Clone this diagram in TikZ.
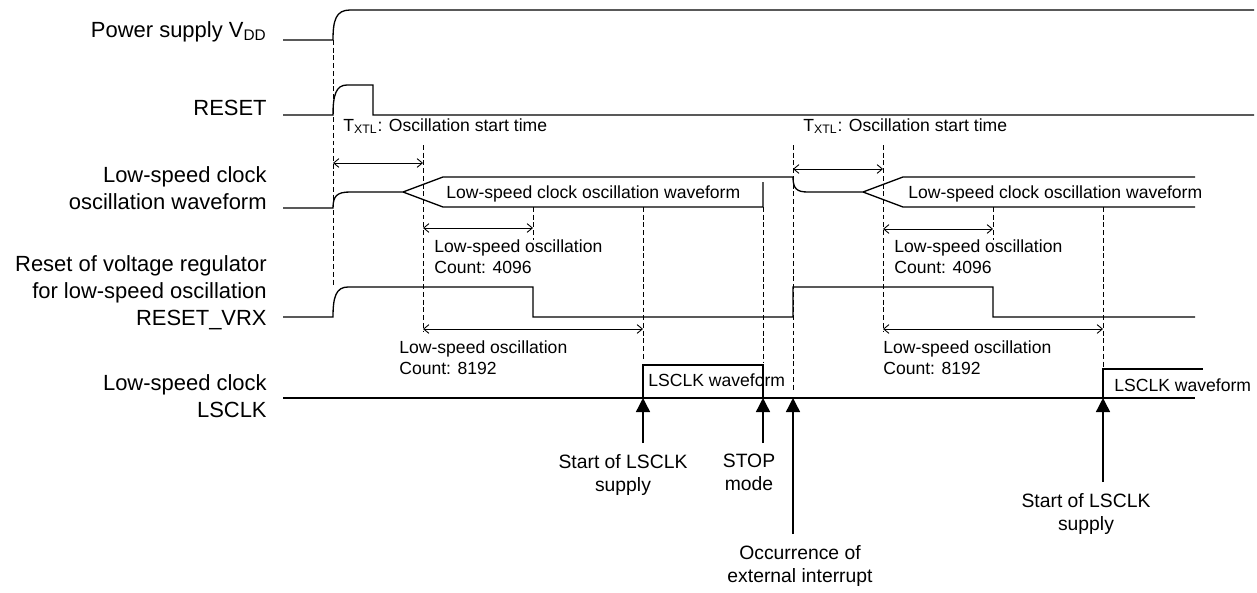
\documentclass[tikz,border=0pt]{standalone}
\usepackage{fontspec}
\setmainfont{Liberation Sans}
\usetikzlibrary{arrows.meta}

\tikzset{
    wave/.style={line width=0.75pt},
    guide/.style={line width=0.5pt, dash pattern=on 2.8pt off 1.6pt},
    span/.style={line width=0.5pt, {Straight Barb[length=3pt,width=5pt]}-{Straight Barb[length=3pt,width=5pt]}},
    evarrow/.style={line width=0.8pt, -{Triangle[length=8pt,width=8pt]}},
    signame/.style={font=\fontsize{12.5}{15.5}\selectfont, align=right, inner sep=0pt},
    note/.style={font=\fontsize{10}{12}\selectfont, align=left, inner sep=0pt},
    event/.style={font=\fontsize{11}{13}\selectfont, align=center, inner sep=0pt, outer ysep=6.5pt, anchor=north}
}

\begin{document}
\begin{tikzpicture}[x=0.02cm, y=-0.02cm]

    \useasboundingbox (0,0) rectangle (1257,592);

    % Signal names on the left
    \node[signame, anchor=base east] (vdd) at (267,37) {Power supply V\textsubscript{DD}};
    \node[signame, anchor=base east] (rst) at (267,115) {RESET};
    \node[signame, anchor=north east] (losc) at (267,166) {Low-speed clock\\oscillation waveform};
    \node[signame, anchor=north east] (vrx) at (267,255) {Reset of voltage regulator\\for low-speed oscillation\\RESET\_VRX};
    \node[signame, anchor=north east] (lsclk) at (267,374) {Low-speed clock\\LSCLK};

    % Power supply and RESET
    \draw[wave] (283,40) -- (333,40) .. controls (333,20) and (336,10) .. (350,10) -- (1254,10);
    \draw[wave] (283,115) -- (333,115) .. controls (333,95) and (336,85) .. (347,85) -- (373,85) -- (373,115) -- (1254,115);

    % Low-speed clock oscillation waveform
    \draw[wave] (283,208) -- (333,208) .. controls (333,196) and (337,192) .. (350,192) -- (403,192)
        -- (443,177) -- (793,177) .. controls (793,189) and (797,192) .. (808,192) -- (863,192)
        -- (903,177) -- (1195,177);
    \draw[wave] (403,192) -- (443,207) -- (763,207) -- (763,182);
    \draw[wave] (863,192) -- (903,207) -- (1195,207);

    % RESET_VRX
    \draw[wave] (283,317) -- (333,317) .. controls (333,297) and (336,287) .. (348,287) -- (533,287)
        -- (533,317) -- (793,317) -- (793,287) -- (993,287) -- (993,317) -- (1195,317);

    % LSCLK
    \draw[wave] (283,398) -- (1195,398);
    \draw[wave] (643,398) -- (643,365) -- (763,365) -- (763,398);
    \draw[wave] (1103,398) -- (1103,369) -- (1203,369);

    % Dashed timing guides
    \foreach \x/\ya/\yb in {333/40/285, 423/145/332, 533/207/240, 643/207/360,
                            763/207/363, 793/145/392, 883/145/332, 993/207/240, 1103/207/368} {
        \draw[guide] (\x,\ya) -- (\x,\yb);
    }

    % Interval arrows
    \foreach \xa/\xb/\y in {333/423/163, 423/533/228, 423/643/329,
                            793/883/169, 883/993/229, 883/1103/329} {
        \draw[span] (\xa,\y) -- (\xb,\y);
    }

    % Interval texts
    \node[note, anchor=base west] (txtla) at (343,131) {T\textsubscript{XTL}: Oscillation start time};
    \node[note, anchor=base west] (txtlb) at (803,131) {T\textsubscript{XTL}: Oscillation start time};
    \node[note, anchor=base west] (wavea) at (446,198) {Low-speed clock oscillation waveform};
    \node[note, anchor=base west] (waveb) at (908,198) {Low-speed clock oscillation waveform};
    \node[note, anchor=north west] (cnta) at (434,239) {Low-speed oscillation\\Count: 4096};
    \node[note, anchor=north west] (cntb) at (894,239) {Low-speed oscillation\\Count: 4096};
    \node[note, anchor=north west] (cntc) at (399,340) {Low-speed oscillation\\Count: 8192};
    \node[note, anchor=north west] (cntd) at (883,340) {Low-speed oscillation\\Count: 8192};
    \node[note, anchor=base west] (lswa) at (648,386) {LSCLK waveform};
    \node[note, anchor=base west] (lswb) at (1114,391) {LSCLK waveform};

    % Events on the LSCLK line
    \coordinate (ta) at (643,398);
    \coordinate (tb) at (763,398);
    \coordinate (tc) at (793,398);
    \coordinate (td) at (1103,398);

    \node[event] (supa) at (623,443) {Start of LSCLK\\supply};
    \node[event] (stop) at (749,443) {STOP\\mode};
    \node[event] (intr) at (800,534) {Occurrence of\\external interrupt};
    \node[event] (supb) at (1086,482) {Start of LSCLK\\supply};

    \draw[evarrow] (ta |- supa.north) -- (ta);
    \draw[evarrow] (tb |- stop.north) -- (tb);
    \draw[evarrow] (tc |- intr.north) -- (tc);
    \draw[evarrow] (td |- supb.north) -- (td);

\end{tikzpicture}
\end{document}
